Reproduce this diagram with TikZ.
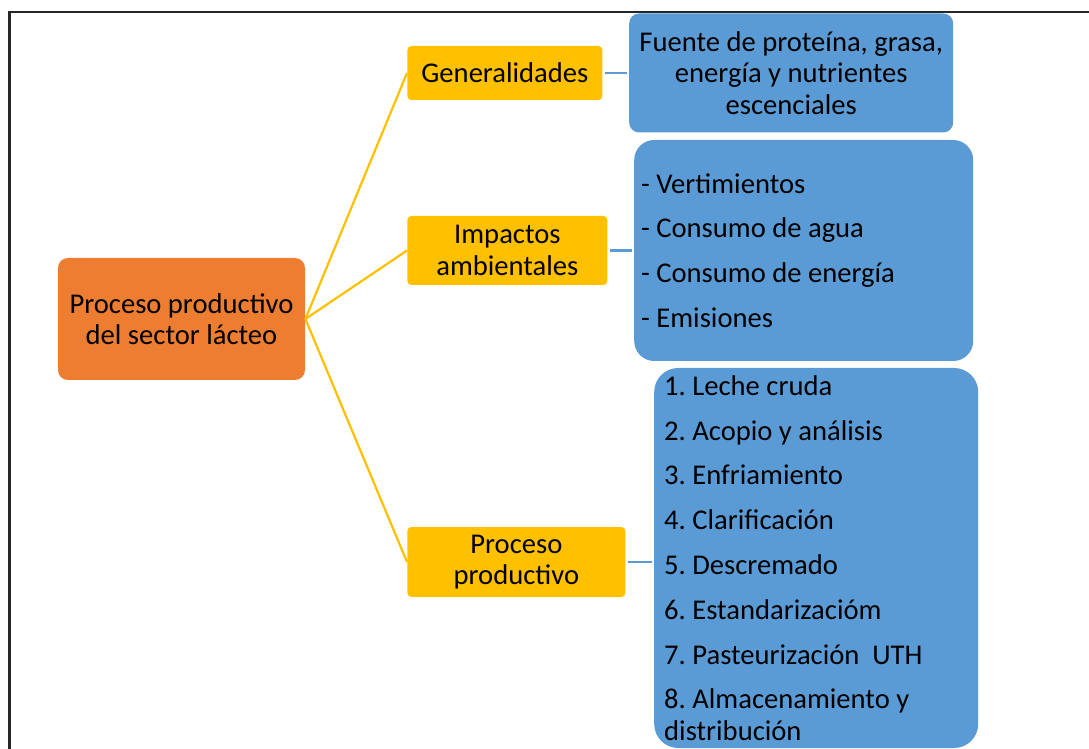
\documentclass[tikz,border=0pt]{standalone}
\usepackage{fontspec}
\setmainfont{Carlito}
\usetikzlibrary{positioning}

\definecolor{rootorange}{HTML}{ED7D31}
\definecolor{branchyellow}{HTML}{FFC000}
\definecolor{leafblue}{HTML}{5B9BD5}

\begin{document}
\frenchspacing
\begin{tikzpicture}
			[x=0.5pt, y=-0.5pt,
			 every node/.style={inner sep=0pt,font=\fontsize{14.3}{15.8}\selectfont},
			 root/.style={fill=rootorange,rounded corners=5pt,align=center,
			   minimum width=123.5pt,minimum height=61pt},
			 branch/.style={fill=branchyellow,rounded corners=2pt,align=center,
			   minimum height=27pt,anchor=west},
			 leaf/.style={fill=leafblue,align=flush left,inner xsep=3.5pt},
			 trunk/.style={branchyellow,line width=1.1pt},
			 twig/.style={leafblue,line width=1.3pt,shorten <=1pt,shorten >=1pt},
			 node distance=13pt]
			\clip (0,0) rectangle (1089,749);
			\useasboundingbox (0,0) rectangle (1089,749);
			\draw [black!85,line width=1.2pt] (9.5,12) rectangle (1100,760);

			\node (root) [root] at (181.5,319) {Proceso productivo\\del sector lácteo};

			\node (gen) [branch,minimum width=97.5pt] at (407,73) {Generalidades};
			\node (imp) [branch,minimum width=100pt,minimum height=34.5pt] at (407,250.5)
			  {Impactos\\ambientales};
			\node (proc) [branch,minimum width=109pt,minimum height=35pt] at (407,562)
			  {Proceso\\productivo};

			\node (fuente) [leaf,right=of gen,rounded corners=5pt,align=center,
			  minimum width=162pt,minimum height=59.5pt]
			  {Fuente de proteína, grasa,\\energía y nutrientes\\escenciales};
			\node (impactos) [leaf,right=of imp,rounded corners=10pt,
			  text width=162.5pt,minimum height=110.5pt]
			  {- Vertimientos\\[6.6pt]
			   - Consumo de agua\\[6.6pt]
			   - Consumo de energía\\[6.6pt]
			   - Emisiones};
			\node (pasos) [leaf,right=14pt of proc,yshift=2pt,rounded corners=12pt,
			  inner xsep=5pt,text width=152pt,minimum height=190pt]
			  {1. Leche cruda\\[6.6pt]
			   2. Acopio y análisis\\[6.6pt]
			   3. Enfriamiento\\[6.6pt]
			   4. Clarificación\\[6.6pt]
			   5. Descremado\\[6.6pt]
			   6. Estandarizacióm\\[6.6pt]
			   7. Pasteurización\ \ UTH\\[6.6pt]
			   8. Almacenamiento y\\distribución};

			\draw [trunk] (root.east) -- (gen.west);
			\draw [trunk] (root.east) -- (imp.west);
			\draw [trunk] (root.east) -- (proc.west);
			\draw [twig] (gen.east) -- (fuente.west);
			\draw [twig] (imp.east) -- (impactos.west);
			\draw [twig] (proc.east) -- (proc.east -| pasos.west);
	  \end{tikzpicture}
\end{document}
